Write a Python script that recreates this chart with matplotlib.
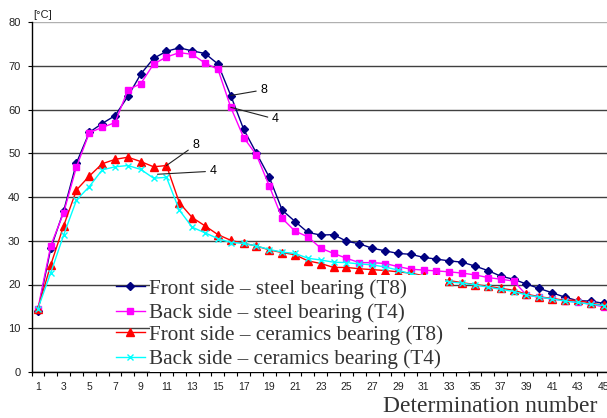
import numpy as np
import matplotlib
matplotlib.use('Agg')
import matplotlib.pyplot as plt
from matplotlib.patches import Rectangle

plt.rcParams['font.family'] = ['Liberation Sans', 'DejaVu Sans']
plt.rcParams['axes.unicode_minus'] = False

determination = np.arange(1, 46)

front_steel = [14.0, 28.3, 36.8, 47.8, 54.8, 56.8, 58.6, 63.0, 68.1, 71.7,
               73.3, 74.1, 73.4, 72.8, 70.4, 63.2, 55.5, 50.0, 44.5, 37.0,
               34.4, 31.9, 31.3, 31.4, 29.9, 29.3, 28.3, 27.7, 27.1, 26.9,
               26.2, 25.8, 25.4, 25.1, 24.2, 23.2, 21.9, 21.2, 20.1, 19.1,
               18.1, 17.1, 16.3, 16.2, 15.7]
back_steel = [14.5, 28.9, 36.4, 46.9, 54.7, 55.9, 57.0, 64.5, 65.9, 70.4,
              72.0, 73.0, 72.6, 70.6, 69.2, 60.5, 53.6, 49.6, 42.5, 35.1,
              32.2, 30.9, 28.3, 27.1, 26.0, 25.0, 25.0, 24.8, 24.1, 23.5,
              23.3, 23.1, 22.9, 22.6, 22.2, 21.6, 21.2, 20.8, 17.6, 17.1,
              16.7, 16.3, 15.9, 15.5, 14.9]
front_ceramic = [14.5, 24.5, 33.4, 41.6, 44.8, 47.6, 48.6, 49.1, 48.1, 46.9,
                 47.2, 38.7, 35.3, 33.4, 31.4, 30.1, 29.4, 28.8, 27.9, 27.3,
                 26.8, 25.4, 24.8, 23.9, 23.9, 23.6, 23.4, 23.2, 22.9, 22.6,
                 22.0, 21.4, 20.9, 20.4, 20.0, 19.6, 19.1, 18.7, 17.8, 17.2,
                 16.8, 16.4, 16.4, 15.7, 15.3]
back_ceramic = [14.5, 22.7, 31.3, 39.3, 42.4, 46.2, 46.9, 47.2, 46.3, 44.3,
                44.5, 37.0, 33.1, 31.8, 30.5, 29.6, 29.4, 28.8, 28.0, 27.4,
                27.1, 26.0, 25.6, 25.1, 25.0, 24.7, 24.5, 24.0, 23.3, 22.4,
                21.8, 21.2, 20.6, 20.3, 19.9, 19.4, 18.9, 18.4, 17.6, 17.1,
                16.7, 16.2, 15.9, 15.5, 15.2]

labels = ['Front side \u2013 steel bearing (T8)',
          'Back side \u2013 steel bearing (T4)',
          'Front side \u2013 ceramics bearing (T8)',
          'Back side \u2013 ceramics bearing (T4)']

W, H = 607, 418
fig = plt.figure(figsize=(W / 100, H / 100), dpi=100)
ax = fig.add_axes([31.5 / W, 1 - 372 / H, (610 - 31.5) / W, 350 / H])

h1, = ax.plot(determination, front_steel, color='#000080', lw=1, marker='D', ms=4.3, label=labels[0])
h2, = ax.plot(determination, back_steel, color='#FF00FF', lw=1, marker='s', ms=5, label=labels[1])
h3, = ax.plot(determination, front_ceramic, color='#FF0000', lw=1, marker='^', ms=5.5, label=labels[2])
h4, = ax.plot(determination, back_ceramic, color='#00FFFF', lw=1, marker='x', ms=4.5, mew=1, label=labels[3])

ax.set_xlim(0.5, 45.5)
ax.set_ylim(0, 80)
ax.set_yticks(np.arange(0, 81, 10))
ax.set_xticks(determination[::2])
ax.set_xticks(np.arange(0.5, 46, 1), minor=True)
ax.tick_params(axis='x', which='major', length=0, pad=7, labelsize=7.5, labelcolor='#222222')
ax.tick_params(axis='x', which='minor', length=3, direction='out', width=0.8)
ax.tick_params(axis='y', length=3, width=0.8, pad=5, labelsize=8, labelcolor='#222222')
for s in ['top', 'right']:
    ax.spines[s].set_visible(False)
ax.spines['left'].set_linewidth(1)
ax.spines['bottom'].set_linewidth(1)

ax.set_axisbelow(True)
ax.yaxis.grid(True, color='#404040', lw=1)
for gl, v in zip(ax.yaxis.get_gridlines(), ax.get_yticks()):
    if v == 80:
        gl.set_color('#b0b0b0')

# leader labels
ann = dict(arrowstyle='-', color='#222222', lw=0.8, shrinkA=1, shrinkB=0)
ax.annotate('8', xy=(16, front_steel[15]), xytext=(18.3, 64.5), ha='left', va='center', fontsize=9, arrowprops=ann)
ax.annotate('4', xy=(16, back_steel[15]), xytext=(19.2, 57.8), ha='left', va='center', fontsize=9, arrowprops=ann)
ax.annotate('8', xy=(11, front_ceramic[10]), xytext=(13.0, 51.9), ha='left', va='center', fontsize=9, arrowprops=ann)
ax.annotate('4', xy=(10.3, 45.2), xytext=(14.35, 45.9), ha='left', va='center', fontsize=9, arrowprops=ann)

# white boxes behind the legend text
ax.add_patch(Rectangle((150 / W, 1 - 321 / H), 295 / W, 46 / H, transform=fig.transFigure,
                       facecolor='white', edgecolor='none', zorder=4, clip_on=False))
ax.add_patch(Rectangle((150 / W, 1 - 372 / H), 318 / W, 52 / H, transform=fig.transFigure,
                       facecolor='white', edgecolor='none', zorder=4.2, clip_on=False))

leg_font = {'family': 'Liberation Serif', 'size': 15.3}
leg1 = ax.legend([h1, h2], labels[:2], loc='upper left', bbox_to_anchor=(116 / W, 1 - 279 / H),
                 bbox_transform=fig.transFigure, frameon=False, prop=leg_font, labelspacing=0.2,
                 handlelength=1.35, handletextpad=0.2, borderpad=0, borderaxespad=0)
for t in leg1.get_texts():
    t.set_color('#333333')
ax.add_artist(leg1)
leg2 = ax.legend([h3, h4], labels[2:], loc='upper left', bbox_to_anchor=(116 / W, 1 - 325 / H),
                 bbox_transform=fig.transFigure, frameon=False, prop=leg_font, labelspacing=0.2,
                 handlelength=1.35, handletextpad=0.2, borderpad=0, borderaxespad=0)
for t in leg2.get_texts():
    t.set_color('#333333')

fig.text(33 / W, 1 - 15 / H, '[\u00b0C]', fontsize=8, ha='left', va='center', color='#222222')
fig.text(597 / W, 1 - 412 / H, 'Determination number', family='Liberation Serif', fontsize=17,
         ha='right', va='baseline', color='#333333')

fig.savefig('out.png', dpi=100)
